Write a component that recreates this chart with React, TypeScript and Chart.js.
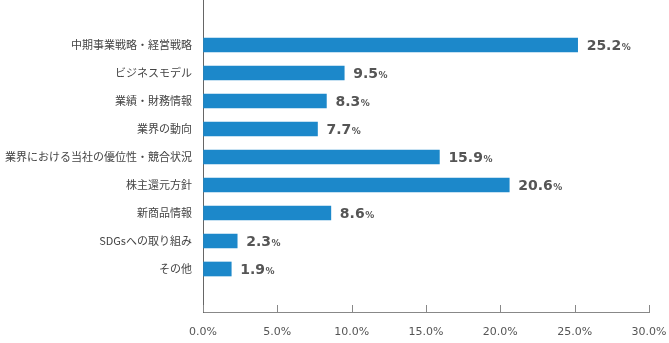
import React, { useEffect, useRef } from "react";
import { Chart, registerables } from "chart.js";

Chart.register(...registerables);

const categories = [
  "中期事業戦略・経営戦略",
  "ビジネスモデル",
  "業績・財務情報",
  "業界の動向",
  "業界における当社の優位性・競合状況",
  "株主還元方針",
  "新商品情報",
  "SDGsへの取り組み",
  "その他",
];
const values = [25.2, 9.5, 8.3, 7.7, 15.9, 20.6, 8.6, 2.3, 1.9];
const xTicks = [0, 5, 10, 15, 20, 25, 30];

const Y_MIN = -1.607;
const Y_MAX = 9.536;
const BAR_COLOR = "#1c88ca";
const TICK_FONT = "'DejaVu Sans', 'Noto Sans CJK JP', sans-serif";
const LABEL_FONT = "'Noto Sans CJK JP', sans-serif";

const valueLabels = {
  id: "valueLabels",
  afterDatasetsDraw(chart: any) {
    const ctx = chart.ctx;
    const meta = chart.getDatasetMeta(0);
    ctx.save();
    ctx.fillStyle = "#555555";
    ctx.textBaseline = "alphabetic";
    ctx.textAlign = "left";
    meta.data.forEach((el: any, i: number) => {
      const num = values[i].toFixed(1);
      const x = el.x + 9;
      const y = el.y + 5.5;
      ctx.font = "bold 14px 'DejaVu Sans', sans-serif";
      ctx.fillText(num, x, y);
      const w = ctx.measureText(num).width;
      ctx.font = "bold 9px 'DejaVu Sans', sans-serif";
      ctx.fillText("%", x + w + 0.5, y);
    });
    ctx.restore();
  },
};

const innerTicks = {
  id: "innerTicks",
  afterDraw(chart: any) {
    const ctx = chart.ctx;
    const xs = chart.scales.x;
    const bottom = Math.round(chart.chartArea.bottom);
    ctx.save();
    ctx.strokeStyle = "#888888";
    ctx.lineWidth = 1;
    ctx.beginPath();
    xTicks.forEach((v) => {
      const px = Math.round(xs.getPixelForValue(v)) + 0.5;
      ctx.moveTo(px, bottom);
      ctx.lineTo(px, bottom - 7);
    });
    ctx.stroke();
    ctx.restore();
  },
};

export default function App() {
  const ref = useRef<HTMLCanvasElement | null>(null);
  useEffect(() => {
    if (!ref.current) return;
    const chart = new Chart(ref.current, {
      type: "bar",
      data: {
        datasets: [
          {
            data: values.map((v, i) => ({ x: v, y: i })),
            backgroundColor: BAR_COLOR,
            borderWidth: 0,
            barThickness: 14,
          },
        ],
      },
      options: {
        indexAxis: "y",
        animation: false,
        responsive: false,
        layout: { padding: { top: 0, right: 20, left: 0, bottom: 0 } },
        plugins: { legend: { display: false }, tooltip: { enabled: false } },
        scales: {
          x: {
            type: "linear",
            position: "bottom",
            min: 0,
            max: 30,
            afterBuildTicks: (s: any) => {
              s.ticks = xTicks.map((v) => ({ value: v }));
            },
            afterFit: (s: any) => {
              s.height = 31;
              s.paddingLeft = 0;
              s.paddingRight = 0;
            },
            ticks: {
              color: "#555555",
              font: { size: 11, family: TICK_FONT },
              padding: 14,
              maxRotation: 0,
              autoSkip: false,
              callback: (v: any) => Number(v).toFixed(1) + "%",
            },
            grid: {
              display: true,
              drawOnChartArea: false,
              drawTicks: false,
              color: "#888888",
              lineWidth: 1,
            },
            border: { display: true, color: "#888888", width: 1 },
          },
          y: {
            type: "linear",
            reverse: true,
            bounds: "data",
            min: Y_MIN,
            max: Y_MAX,
            offset: false,
            afterBuildTicks: (s: any) => {
              s.ticks = categories.map((_, i) => ({ value: i }));
              s.min = Y_MIN;
              s.max = Y_MAX;
            },
            afterFit: (s: any) => {
              s.width = 203;
              s.paddingTop = 0;
              s.paddingBottom = 0;
            },
            ticks: {
              autoSkip: false,
              color: "#444444",
              font: { size: 11, family: LABEL_FONT },
              padding: 11,
              callback: (v: any) => {
                const n = Math.round(Number(v));
                return n >= 0 && n < categories.length ? categories[n] : "";
              },
            },
            grid: { display: true, drawOnChartArea: false, drawTicks: false, offset: false },
            border: { display: true, color: "#666666", width: 1 },
          },
        },
      },
      plugins: [valueLabels, innerTicks],
    });
    return () => chart.destroy();
  }, []);
  return (
    <div style={{ position: "fixed", left: 0, top: 0, width: 669, height: 343, background: "#fff" }}>
      <canvas ref={ref} width={669} height={343} />
    </div>
  );
}
